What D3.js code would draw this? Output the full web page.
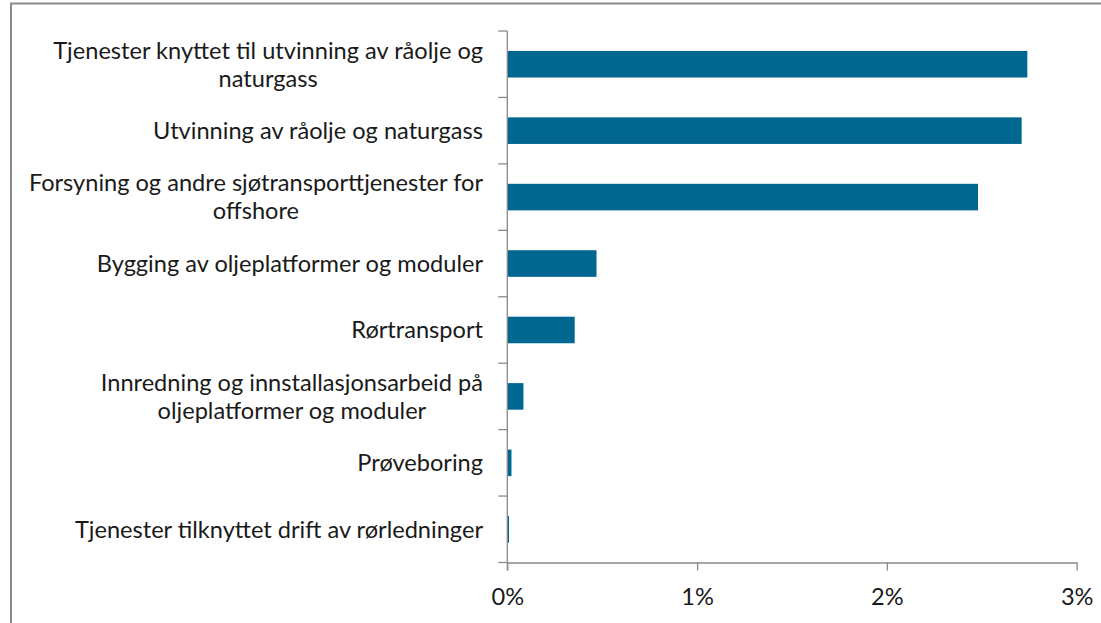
<!DOCTYPE html>
<html>
<head>
<meta charset="utf-8">
<script src="https://cdn.jsdelivr.net/npm/d3@7"></script>
<style>
  html, body { margin: 0; padding: 0; background: #fff; }
  svg { display: block; }
  text { font-family: Lato, "Open Sans", sans-serif; fill: #1a1a1a; }
</style>
</head>
<body>
<svg id="chart" width="1101" height="623"></svg>
<script>
// Category labels, pre-wrapped into lines
const categories = [
  ["Tjenester knyttet til utvinning av råolje og", "naturgass"],
  ["Utvinning av råolje og naturgass"],
  ["Forsyning og andre sjøtransporttjenester for", "offshore"],
  ["Bygging av oljeplatformer og moduler"],
  ["Rørtransport"],
  ["Innredning og innstallasjonsarbeid på", "oljeplatformer og moduler"],
  ["Prøveboring"],
  ["Tjenester tilknyttet drift av rørledninger"]
];
// Share, in percent
const values = [2.74, 2.71, 2.48, 0.47, 0.355, 0.085, 0.022, 0.009];
const xTicks = [0, 1, 2, 3];
const xTickLabels = ["0%", "1%", "2%", "3%"];

const svg = d3.select("#chart");
const fontSize = 23.6;
const lineGap = 28;
const capHalf = 8.4;
const barColor = "#006791";
const axisColor = "#8a8a8a";

// outer frame (only left and top edges fall inside the view)
svg.append("rect")
  .attr("x", 11).attr("y", 3.5)
  .attr("width", 1300).attr("height", 800)
  .attr("fill", "none")
  .attr("stroke", "#8c8c8c")
  .attr("stroke-width", 2);

const plot = { left: 507.3, right: 1076.7, top: 31, bottom: 562.5 };

const x = d3.scaleLinear().domain([0, 3]).range([plot.left, plot.right]);
const idx = d3.range(categories.length);
const y = d3.scaleBand().domain(idx)
  .range([plot.top, plot.bottom])
  .paddingInner(0.6).paddingOuter(0.3);

// bars
svg.append("g").selectAll("rect")
  .data(idx)
  .join("rect")
  .attr("x", x(0))
  .attr("y", i => y(i))
  .attr("width", i => x(values[i]) - x(0))
  .attr("height", y.bandwidth())
  .attr("fill", barColor);

// vertical category axis with ticks at band boundaries
const step = y.step();
const gy = svg.append("g").attr("stroke", axisColor).attr("stroke-width", 1.3);
gy.append("line")
  .attr("x1", plot.left).attr("x2", plot.left)
  .attr("y1", plot.top).attr("y2", plot.bottom + 8);
gy.selectAll("line.t")
  .data(d3.range(categories.length + 1))
  .join("line")
  .attr("class", "t")
  .attr("x1", plot.left - 9).attr("x2", plot.left)
  .attr("y1", k => plot.top + k * step)
  .attr("y2", k => plot.top + k * step);

// horizontal value axis
const xAxis = d3.axisBottom(x)
  .tickValues(xTicks)
  .tickFormat((d, i) => xTickLabels[i])
  .tickSize(8)
  .tickSizeOuter(0)
  .tickPadding(18);
const gx = svg.append("g")
  .attr("transform", `translate(0,${plot.bottom})`)
  .call(xAxis);
gx.select(".domain").attr("stroke", axisColor).attr("stroke-width", 1.3);
gx.selectAll(".tick line").attr("stroke", axisColor).attr("stroke-width", 1.3);
gx.selectAll(".tick text")
  .attr("font-size", fontSize)
  .attr("font-family", "Lato, 'Open Sans', sans-serif")
  .attr("fill", "#1a1a1a");

// category labels: block right-aligned at the axis, lines centred within the block
const labelRight = 483;
const labels = svg.append("g");
idx.forEach(i => {
  const lines = categories[i];
  const cy = y(i) + y.bandwidth() / 2;
  const g = labels.append("g");
  const texts = g.selectAll("text")
    .data(lines)
    .join("text")
    .attr("font-size", fontSize)
    .attr("y", (d, k) => cy + capHalf + (k - (lines.length - 1) / 2) * lineGap)
    .text(d => d);
  const widths = texts.nodes().map(n => n.getComputedTextLength());
  const maxW = d3.max(widths);
  const centre = labelRight - maxW / 2;
  texts.attr("x", centre).attr("text-anchor", "middle");
});
</script>
</body>
</html>
